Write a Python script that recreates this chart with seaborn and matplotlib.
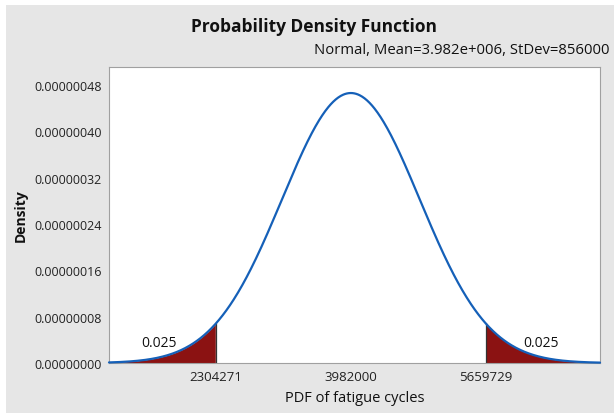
import numpy as np
import pandas as pd
import matplotlib
matplotlib.use("Agg")
import matplotlib.pyplot as plt
from matplotlib.patches import Rectangle
import seaborn as sns

# ---- data ----
mean = 3982000
stdev = 856000
crit_values = [2304271, 5659729]
tail_probs = ["0.025", "0.025"]
label_x = [1600000, 6350000]
xticks = [2304271, 3982000, 5659729]
yticks = [0.0, 0.00000008, 0.00000016, 0.00000024, 0.00000032, 0.00000040, 0.00000048]
x_range = [975000, 7080000]

xs = np.linspace(x_range[0], x_range[1], 800)
pdf = np.exp(-0.5 * ((xs - mean) / stdev) ** 2) / (stdev * np.sqrt(2 * np.pi))
df = pd.DataFrame({"x": xs, "density": pdf})

sns.set_style("white")
plt.rcParams['font.family'] = ['Open Sans', 'DejaVu Sans']

bg = "#e6e6e6"
fig = plt.figure(figsize=(6.14, 4.14), dpi=100, facecolor="white")
fig.patches.append(Rectangle((6/614, 0), 1, 1 - 6/414, transform=fig.transFigure,
                             facecolor=bg, edgecolor="none", zorder=-10))
ax = fig.add_axes([109/614, 1 - 364/414, (600-109)/614, (364-68)/414])
ax.set_facecolor("white")

red = "#8b1212"
blue = "#1560b8"
lo = df[df.x <= crit_values[0]]
hi = df[df.x >= crit_values[1]]
ax.fill_between(lo.x, 0, lo.density, color=red, linewidth=0)
ax.fill_between(hi.x, 0, hi.density, color=red, linewidth=0)
for c in crit_values:
    yc = np.exp(-0.5 * ((c - mean) / stdev) ** 2) / (stdev * np.sqrt(2 * np.pi))
    ax.plot([c, c], [0, yc], color="#333333", lw=0.9)

sns.lineplot(data=df, x="x", y="density", color=blue, lw=1.6, ax=ax, zorder=5, clip_on=False)

ax.set_xlim(x_range)
ax.set_ylim(0, 0.000000511)
ax.set_xticks(xticks)
ax.set_xticklabels([str(v) for v in xticks], fontsize=9.5, color="#222222")
ax.set_yticks(yticks)
ax.set_yticklabels([f"{v:.8f}" for v in yticks], fontsize=9, color="#222222")
ax.tick_params(axis="both", direction="out", length=3, width=0.8, color="#888888", pad=2)
ax.tick_params(axis="x", bottom=False, pad=2)
for s in ax.spines.values():
    s.set_color("#a0a0a0")
    s.set_linewidth(0.8)

ax.set_xlabel("PDF of fatigue cycles", fontsize=10.5, color="#111111", labelpad=5)
ax.set_ylabel("Density", fontsize=10, fontweight="bold", color="#111111", labelpad=5)

for lx, tp in zip(label_x, tail_probs):
    ax.text(lx, 0.000000036, tp, fontsize=10, ha="center", va="center", color="#111111")

fig.text(314/614, 1 - 27/414, "Probability Density Function", fontsize=12.5, fontweight="bold",
         ha="center", va="center", color="#111111")
fig.text(610/614, 1 - 51/414, f"Normal, Mean=3.982e+006, StDev={stdev}", fontsize=10.7,
         ha="right", va="center", color="#111111")

fig.savefig("out.png", dpi=100, facecolor="white")
